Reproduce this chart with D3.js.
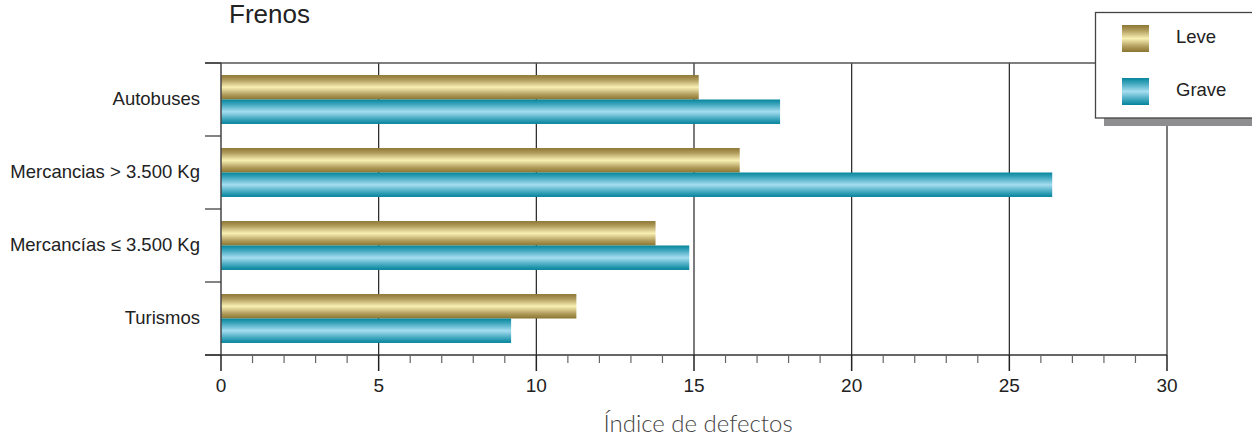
<!DOCTYPE html>
<html><head><meta charset="utf-8">
<script src="https://cdn.jsdelivr.net/npm/d3@7"></script>
<style>
html,body{margin:0;padding:0;background:#fff;overflow:hidden}
text{font-family:"Liberation Sans",Arial,sans-serif}
</style></head>
<body><svg id="c" width="1252" height="436"></svg>
<script>
const categories = ["Autobuses", "Mercancias > 3.500 Kg", "Mercancías ≤ 3.500 Kg", "Turismos"];
const series = ["Leve", "Grave"];
const leve = [15.15, 16.45, 13.78, 11.27];
const grave = [17.73, 26.36, 14.85, 9.2];
const xTicks = [0, 5, 10, 15, 20, 25, 30];
const title = "Frenos";
const xLabel = "Índice de defectos";

(function(){
const svg = d3.select("#c");
const pL = 221, pR = 1167, pT = 63, pB = 355;
const x = d3.scaleLinear().domain([0, 30]).range([pL, pR]);
const y = d3.scaleBand().domain(categories).range([pT, pB]).paddingInner(0.33).paddingOuter(0.165);
const ys = d3.scaleBand().domain(series).range([0, y.bandwidth()]);

const defs = svg.append("defs");
function grad(id, stops){
  const g = defs.append("linearGradient").attr("id", id).attr("x1",0).attr("y1",0).attr("x2",0).attr("y2",1);
  stops.forEach(([o,c]) => g.append("stop").attr("offset", o).attr("stop-color", c));
}
grad("gLeve", [[0,"#8c7634"],[0.2,"#b09c5c"],[0.5,"#f9f0b4"],[0.8,"#b09c5c"],[1,"#8a7430"]]);
grad("gGrave", [[0,"#05869c"],[0.2,"#3ea6bd"],[0.5,"#a6ddf0"],[0.8,"#3ea6bd"],[1,"#03839a"]]);
const fills = {Leve: "url(#gLeve)", Grave: "url(#gGrave)"};

// vertical gridlines
svg.append("g").selectAll("line").data(xTicks.slice(1)).join("line")
  .attr("x1", d => x(d)).attr("x2", d => x(d)).attr("y1", pT).attr("y2", pB)
  .attr("stroke", "#222").attr("stroke-width", 1.2);
// top line
svg.append("line").attr("x1", 205).attr("x2", pR).attr("y1", pT).attr("y2", pT)
  .attr("stroke", "#555").attr("stroke-width", 1.6);

// bars
const data = categories.map((c, i) => ({c, vals: [{s:"Leve", v: leve[i]}, {s:"Grave", v: grave[i]}]}));
svg.append("g").selectAll("g").data(data).join("g")
  .attr("transform", d => `translate(0,${y(d.c)})`)
  .selectAll("rect").data(d => d.vals).join("rect")
  .attr("x", x(0)).attr("y", d => ys(d.s)).attr("height", ys.bandwidth())
  .attr("width", d => x(d.v) - x(0)).attr("fill", d => fills[d.s]);

// left axis
svg.append("line").attr("x1", pL).attr("x2", pL).attr("y1", pT).attr("y2", pB)
  .attr("stroke", "#444").attr("stroke-width", 1.5);
const bounds = categories.map(c => y(c) - y.step()*y.paddingInner()/2).concat([pB]);
svg.append("g").selectAll("line").data(bounds).join("line")
  .attr("x1", 205).attr("x2", pL).attr("y1", d => d).attr("y2", d => d)
  .attr("stroke", "#333").attr("stroke-width", 1.2);
svg.append("g").selectAll("text").data(categories).join("text")
  .attr("x", 200).attr("y", d => y(d) + y.bandwidth()/2 - 1).attr("dy", "0.35em")
  .attr("text-anchor", "end").attr("font-size", 18.5).attr("fill", "#222").text(d => d);

// bottom axis
svg.append("line").attr("x1", 205).attr("x2", pR).attr("y1", pB).attr("y2", pB)
  .attr("stroke", "#333").attr("stroke-width", 1.5);
const minor = d3.range(0, 31).filter(d => d % 5 !== 0);
svg.append("g").selectAll("line").data(minor).join("line")
  .attr("x1", d => x(d)).attr("x2", d => x(d)).attr("y1", pB).attr("y2", pB + 8)
  .attr("stroke", "#666").attr("stroke-width", 1.2);
svg.append("g").selectAll("line").data(xTicks).join("line")
  .attr("x1", d => x(d)).attr("x2", d => x(d)).attr("y1", pB).attr("y2", pB + 16)
  .attr("stroke", "#222").attr("stroke-width", 1.5);
svg.append("g").selectAll("text").data(xTicks).join("text")
  .attr("x", d => x(d)).attr("y", 392).attr("text-anchor", "middle")
  .attr("font-size", 19).attr("fill", "#222").text(d => d);

svg.append("text").attr("x", 698).attr("y", 432).attr("text-anchor", "middle")
  .attr("font-size", 24).attr("font-weight", 300).attr("fill", "#444")
  .style("font-family", "Lato, 'Open Sans', sans-serif").text(xLabel);

svg.append("text").attr("x", 229).attr("y", 23).attr("font-size", 26).attr("fill", "#222").text(title);

// legend
svg.append("rect").attr("x", 1104).attr("y", 118).attr("width", 160).attr("height", 8).attr("fill", "#8e8e90");
svg.append("rect").attr("x", 1095.5).attr("y", 12.5).attr("width", 170).attr("height", 105.5)
  .attr("fill", "#fff").attr("stroke", "#444").attr("stroke-width", 1.3);
const lg = svg.append("g").selectAll("g").data(series).join("g")
  .attr("transform", (d, i) => `translate(1122,${25 + i*53})`);
lg.append("rect").attr("width", 27).attr("height", 27).attr("fill", d => fills[d]);
lg.append("text").attr("x", 54).attr("y", 12).attr("dy", "0.35em").attr("font-size", 18.5).attr("fill", "#222").text(d => d);
})();
</script></body></html>
